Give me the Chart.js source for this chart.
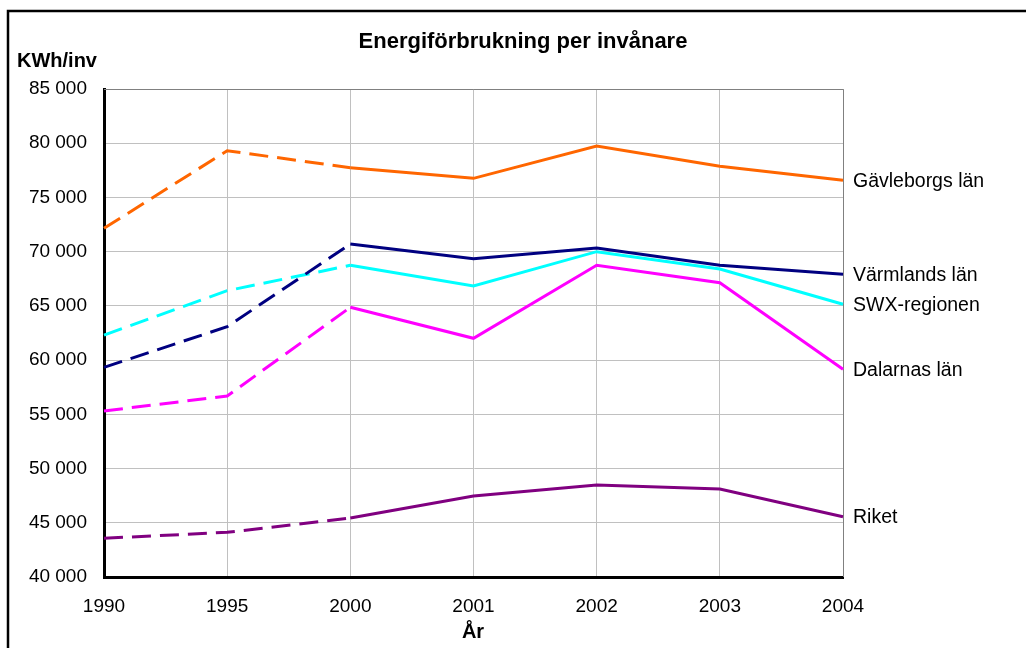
<!DOCTYPE html>
<html>
<head>
<meta charset="utf-8">
<script src="https://cdn.jsdelivr.net/npm/chart.js@4/dist/chart.umd.min.js"></script>
<style>
  html, body { margin: 0; padding: 0; background: #fff; }
  #wrap { width: 1026px; height: 648px; }
</style>
</head>
<body>
<div id="wrap"><canvas id="c" width="1026" height="648"></canvas></div>
<script>
const years = ['1990', '1995', '2000', '2001', '2002', '2003', '2004'];

const gavleborg = [72150, 79310, 77740, 76760, 79740, 77870, 76580];
const varmland  = [59330, 63080, 70710, 69350, 70340, 68740, 67910];
const swx       = [62310, 66400, 68740, 66830, 70000, 68400, 65150];
const dalarna   = [55310, 56690, 64870, 62010, 68740, 67140, 59150];
const riket     = [43570, 44120, 45440, 47470, 48480, 48110, 45560];

const names  = ['Gävleborgs län', 'Värmlands län', 'SWX-regionen', 'Dalarnas län', 'Riket'];
const colors = ['#ff6600', '#000080', '#00ffff', '#ff00ff', '#800080'];
const series = [gavleborg, varmland, swx, dalarna, riket];

const FONT = 'Liberation Sans, Arial, sans-serif';

function fmt(v) {
  return String(v).replace(/\B(?=(\d{3})+(?!\d))/g, ' ');
}

// frame, titles and end labels
const extras = {
  id: 'extras',
  beforeDatasetsDraw(chart) {
    const { ctx, chartArea: a } = chart;
    ctx.save();
    ctx.strokeStyle = '#808080';
    ctx.lineWidth = 1;
    ctx.beginPath();
    ctx.moveTo(a.left, a.top + 0.5);
    ctx.lineTo(a.right + 0.5, a.top + 0.5);
    ctx.lineTo(a.right + 0.5, a.bottom);
    ctx.stroke();
    ctx.restore();
  },
  afterDraw(chart) {
    const { ctx } = chart;
    ctx.save();
    // outer frame
    ctx.strokeStyle = '#000';
    ctx.lineWidth = 2.5;
    ctx.strokeRect(8, 11, 1100, 1000);

    ctx.fillStyle = '#000';
    ctx.textBaseline = 'middle';
    ctx.textAlign = 'center';
    ctx.font = 'bold 22px ' + FONT;
    ctx.fillText('Energiförbrukning per invånare', 523, 42);

    ctx.textAlign = 'left';
    ctx.font = 'bold 20px ' + FONT;
    ctx.fillText('KWh/inv', 17, 61);

    ctx.textAlign = 'center';
    ctx.fillText('År', 473, 632);

    // series names at the line ends
    ctx.textAlign = 'left';
    ctx.font = '19.5px ' + FONT;
    chart.data.datasets.forEach((ds, i) => {
      const meta = chart.getDatasetMeta(i);
      const p = meta.data[meta.data.length - 1];
      ctx.fillText(ds.label, p.x + 10, p.y + 1);
    });
    ctx.restore();
  }
};

new Chart(document.getElementById('c'), {
  type: 'line',
  data: {
    labels: years,
    datasets: series.map((d, i) => ({
      label: names[i],
      data: d,
      borderColor: colors[i],
      backgroundColor: colors[i],
      borderWidth: 3,
      pointRadius: 0,
      tension: 0,
      segment: {
        borderDash: ctx => ctx.p1DataIndex <= 2 ? [19, 9] : undefined
      }
    }))
  },
  options: {
    responsive: false,
    animation: false,
    layout: { padding: { top: 89, right: 183, bottom: 0, left: 0 } },
    plugins: {
      legend: { display: false },
      title: { display: false },
      tooltip: { enabled: false }
    },
    scales: {
      x: {
        offset: false,
        grid: { color: '#c0c0c0', lineWidth: 1, drawTicks: false },
        border: { color: '#000', width: 3 },
        ticks: { color: '#000', font: { family: FONT, size: 19 }, padding: 18, maxRotation: 0 },
        afterFit: s => { s.height = 71; }
      },
      y: {
        min: 40000,
        max: 85000,
        grid: { color: '#c0c0c0', lineWidth: 1, drawTicks: false },
        border: { color: '#000', width: 3 },
        ticks: {
          stepSize: 5000,
          color: '#000',
          font: { family: FONT, size: 19 },
          padding: 17,
          callback: v => fmt(v)
        },
        afterFit: s => { s.width = 104; }
      }
    }
  },
  plugins: [extras]
});
</script>
</body>
</html>
